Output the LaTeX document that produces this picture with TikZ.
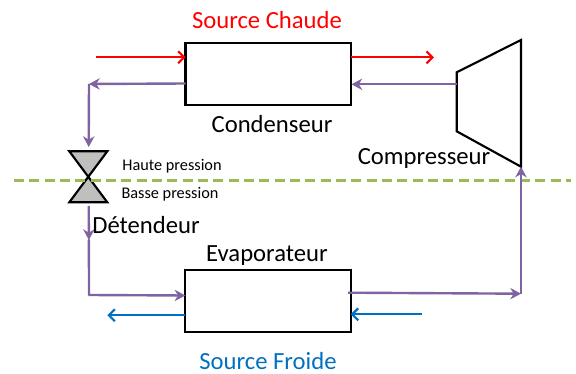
\documentclass[tikz,border=0pt]{standalone}
\usepackage{fontspec}
\setmainfont{Carlito}
\usetikzlibrary{arrows.meta}
\definecolor{cyclecol}{HTML}{8064A2}
\definecolor{coldcol}{HTML}{0070C0}
\definecolor{limitcol}{HTML}{9BBB59}
\definecolor{valvecol}{HTML}{BFBFBF}
\begin{document}
\begin{tikzpicture}[x=0.75pt, y=-0.75pt,
         exchanger/.style = {rectangle, draw=black, line width=1.6pt,
                minimum width=124pt, minimum height=46.5pt,
                inner sep=0pt, outer sep=0pt, anchor=center},
         biglabel/.style = {font=\fontsize{18.5}{22}\selectfont, inner sep=0pt, anchor=center},
         smalllabel/.style = {font=\fontsize{12.2}{14}\selectfont, inner sep=0pt, anchor=center},
         cycle/.style = {draw=cyclecol, line width=1.8pt},
         cycletip/.style = {cycle, -{Stealth[inset=2.5pt, length=8pt, width=8.5pt]}},
         hot/.style = {draw=red, line width=1.6pt, -{Straight Barb[length=4.5pt, width=9pt]}},
         cold/.style = {draw=coldcol, line width=1.6pt, -{Straight Barb[length=4.5pt, width=9pt]}},
         ]
\useasboundingbox (0,0) rectangle (576,374);
% exchangers
\node [exchanger] (cond) at (268.2,74.3) {};
\node [exchanger] (evap) at (268,301) {};
% corners and free ends
\coordinate (hotin)   at (96,57.3);
\coordinate (hotleft) at (185.7,57.3);
\coordinate (hotright) at (350.7,57.3);
\coordinate (hotout)  at (434,57.3);
\coordinate (condout) at (185.7,83.5);
\coordinate (condin)  at (351.5,84.3);
\coordinate (cornerA) at (89,84);
\coordinate (valvein) at (88.7,147);
\coordinate (valveout) at (88.7,206);
\coordinate (midtip)  at (88.9,240);
\coordinate (cornerB) at (89,295);
\coordinate (evapin)  at (185.3,295.5);
\coordinate (evapout) at (348,292.7);
\coordinate (cornerC) at (521,293.7);
\coordinate (coldin)  at (422.3,314.3);
\coordinate (coldright) at (350.7,314.3);
\coordinate (coldleft) at (185.3,315.3);
\coordinate (coldout) at (107.3,315.3);
\coordinate (limitL)  at (14,180.5);
\coordinate (limitR)  at (571,180.5);
% compressor
\coordinate (compA) at (456.7,72.3);
\coordinate (compB) at (521,40);
\coordinate (compC) at (521,166.7);
\coordinate (compD) at (456.7,131.3);
\coordinate (compout) at (456.7,84.3);
\draw [line width=1.6pt, line join=miter] (compA) -- (compB) -- (compC) -- (compD) -- cycle;
% valve
\coordinate (valveTL) at (69.3,151.3);
\coordinate (valveTR) at (107.3,151.3);
\coordinate (valveBL) at (69.3,202.3);
\coordinate (valveBR) at (107.3,202.3);
\draw [fill=valvecol, line width=1.6pt] (valveTL) -- (valveTR) -- (valveBL) -- (valveBR) -- cycle;
% limit between the two pressures
\draw [limitcol, line width=1.7pt, dash pattern=on 7.5pt off 4pt] (limitL) -- (limitR);
% sources
\draw [hot] (hotin) -- (hotleft);
\draw [hot] (hotright) -- (hotout);
\draw [cold] (coldleft) -- (coldout);
\draw [cold] (coldin) -- (coldright);
% fluid
\draw [cycletip] (compout) -- (condin);
\draw [cycletip] (condout) -- (cornerA);
\draw [cycletip] (cornerA) -- (valvein);
\draw [cycletip] (valveout) -- (midtip);
\draw [cycle, line cap=round] (midtip) -- (cornerB);
\draw [cycletip] (cornerB) -- (evapin);
\draw [cycletip] (evapout) -- (cornerC);
\draw [cycletip] (cornerC) -- (compC);
% labels
\node [biglabel, text=red] (hotlabel) at (267,20) {Source Chaude};
\node [biglabel] (condlabel) at (272,124) {Condenseur};
\node [biglabel] (complabel) at (424,158) {Compresseur};
\node [smalllabel] (highlabel) at (172,166) {Haute pression};
\node [smalllabel] (lowlabel) at (170,194.5) {Basse pression};
\node [biglabel] (valvelabel) at (146,225.5) {Détendeur};
\node [biglabel] (evaplabel) at (267,255.5) {Evaporateur};
\node [biglabel, text=coldcol] (coldlabel) at (268,361) {Source Froide};
\end{tikzpicture}
\end{document}
